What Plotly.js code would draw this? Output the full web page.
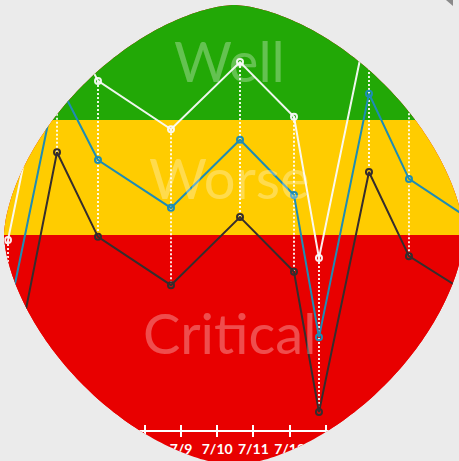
<!DOCTYPE html>
<html>
<head>
<meta charset="utf-8">
<script src="https://cdn.plot.ly/plotly-3.0.1.min.js"></script>
<style>
  html, body { margin: 0; padding: 0; background: #ebebeb; width: 459px; height: 461px; overflow: hidden; }
  #wrap { position: relative; width: 459px; height: 461px; }
  #chart { position: absolute; left: 0; top: 0; width: 459px; height: 461px; }
  #corner { position: absolute; left: 446px; top: 0; width: 7px; height: 6px; background: #8a8a8a;
            clip-path: polygon(0 0, 100% 0, 100% 100%); }
</style>
</head>
<body>
<div id="wrap"><div id="chart"></div><div id="corner"></div></div>
<script>
// ---- data ----
const times = ['2023-07-04 05:18', '2023-07-05 13:48', '2023-07-06 16:58', '2023-07-08 17:22',
               '2023-07-10 15:07', '2023-07-12 02:55', '2023-07-12 19:29', '2023-07-14 04:38',
               '2023-07-15 07:09', '2023-07-17 06:14'];
const upperValues  = [48.9, 100.7, 83.5, 73.0, 87.6, 75.7, 45.0, 97.6, 79.1, 68.9];
const middleValues = [32.0, 83.7, 66.3, 55.9, 70.7, 58.7, 27.8, 80.7, 62.2, 52.0];
const lowerValues  = [14.1, 68.0, 49.6, 39.1, 53.9, 42.0, 11.5, 63.7, 45.4, 35.7];

const bandNames  = ['Critical', 'Worse', 'Well'];
const bandLower  = [0, 50, 75];
const bandUpper  = [50, 75, 110];

const tickDates  = ['2023-07-04', '2023-07-05', '2023-07-06', '2023-07-07', '2023-07-08', '2023-07-09',
                    '2023-07-10', '2023-07-11', '2023-07-12', '2023-07-13', '2023-07-14', '2023-07-15', '2023-07-16'];
const tickLabels = ['7/4', '7/5', '7/6', '7/7', '7/8', '7/9', '7/10', '7/11', '7/12', '7/13', '7/14', '7/15', '7/16'];

// ---- styles ----
const bandColors = ['#e80000', '#ffcc00', '#22a806'];
const xRange = ['2023-07-04 00:00', '2023-07-16 16:19'];
const yRange = [7.61, 101.09];

// range (dotted) connectors built from upper/lower series
const rx = [], ry = [];
times.forEach((t, i) => { rx.push(t, t, null); ry.push(upperValues[i], lowerValues[i], null); });

const lineTrace = (y, color, name, xa) => ({
  type: 'scatter', mode: 'lines+markers', x: times, y: y, name: name, xaxis: xa || 'x',
  line: { color: color, width: 2 },
  marker: { symbol: 'circle-open', size: 6, color: color, line: { width: 2, color: color } },
  cliponaxis: true
});

const traces = [
  { type: 'scatter', mode: 'lines', x: rx, y: ry, line: { color: 'rgba(255,255,255,0.9)', width: 2, dash: '2px,2px' }, hoverinfo: 'skip' },
  lineTrace(lowerValues, '#352d2d', 'Low'),
  lineTrace(middleValues, '#1e8cb4', 'Mid'),
  lineTrace(upperValues, 'rgba(250,250,250,0.95)', 'High', 'x2')
];

const shapes = bandNames.map((n, i) => ({
  type: 'rect', xref: 'paper', yref: 'y', x0: 0, x1: 1, y0: bandLower[i], y1: bandUpper[i],
  fillcolor: bandColors[i], line: { width: 0 }, layer: 'below'
}));

const annotations = bandNames.map((n, i) => ({
  text: n, xref: 'paper', yref: 'y', x: 0.5,
  y: (Math.max(bandLower[i], yRange[0]) + Math.min(bandUpper[i], yRange[1])) / 2,
  xanchor: 'center', yanchor: 'middle', showarrow: false,
  font: { family: 'Lato, "Open Sans", sans-serif', size: 56, color: 'rgba(255,255,255,0.3)' }
}));

const axisCommon = {
  type: 'date', range: xRange, tickmode: 'array', tickvals: tickDates, ticktext: tickLabels,
  showgrid: false, zeroline: false, ticklen: 5, tickwidth: 2, tickcolor: '#ffffff', fixedrange: true
};

const layout = {
  width: 459, height: 461,
  margin: { l: 0, r: 0, t: 0, b: 31 },
  paper_bgcolor: bandColors[0], plot_bgcolor: bandColors[0],
  showlegend: false,
  xaxis: Object.assign({}, axisCommon, {
    ticks: 'outside', showline: true, linecolor: '#ffffff', linewidth: 2,
    tickfont: { family: 'Lato, sans-serif', size: 14, color: '#ffffff', weight: 'bold' }
  }),
  xaxis2: Object.assign({}, axisCommon, {
    overlaying: 'x', anchor: 'y', side: 'bottom', ticks: 'inside', showline: false, showticklabels: false
  }),
  yaxis: { range: yRange, visible: false, showgrid: false, zeroline: false, fixedrange: true },
  shapes: shapes,
  annotations: annotations
};

Plotly.newPlot('chart', traces, layout, { displayModeBar: false, staticPlot: true });

// rounded-diamond clipping outline (superellipse)
(function () {
  const cx = 234, cy = 235, R = 230, p = 1.633, pts = [];
  for (let k = 0; k < 360; k++) {
    const t = k * Math.PI / 180, c = Math.cos(t), s = Math.sin(t);
    const x = cx + R * Math.sign(c) * Math.pow(Math.abs(c), 2 / p);
    const y = cy + R * Math.sign(s) * Math.pow(Math.abs(s), 2 / p);
    pts.push(x.toFixed(1) + 'px ' + y.toFixed(1) + 'px');
  }
  document.getElementById('chart').style.clipPath = 'polygon(' + pts.join(',') + ')';
})();
</script>
</body>
</html>
